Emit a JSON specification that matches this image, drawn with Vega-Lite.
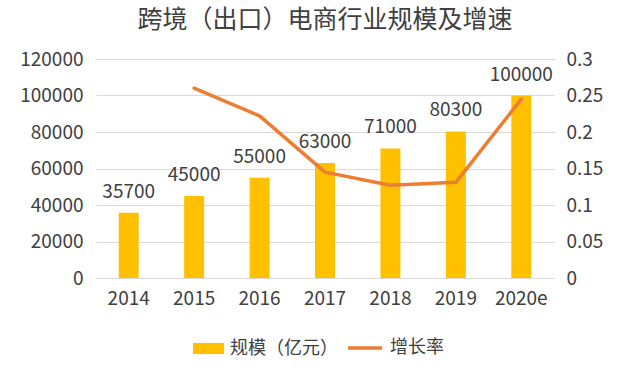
{
  "$schema": "https://vega.github.io/schema/vega-lite/v6.json",
  "width": 458,
  "height": 219,
  "autosize": {"type": "none"},
  "padding": {"left": 96, "top": 59, "right": 86, "bottom": 100},
  "background": "#ffffff",
  "config": {
    "view": {"stroke": null},
    "font": "Noto Sans CJK SC",
    "axis": {"labelFont": "Noto Sans CJK SC", "labelColor": "#404040", "domain": false, "ticks": false, "title": null, "labelOverlap": false},
    "legend": {"labelFont": "Noto Sans CJK SC", "labelColor": "#404040"}
  },
  "title": {
    "text": "跨境（出口）电商行业规模及增速",
    "font": "Noto Sans CJK SC",
    "fontSize": 25,
    "fontWeight": "normal",
    "color": "#404040",
    "anchor": "middle",
    "offset": 17
  },
  "data": {
    "values": [
      {"year": "2014", "scale": 35700, "rate": null},
      {"year": "2015", "scale": 45000, "rate": 0.26},
      {"year": "2016", "scale": 55000, "rate": 0.222},
      {"year": "2017", "scale": 63000, "rate": 0.145},
      {"year": "2018", "scale": 71000, "rate": 0.127},
      {"year": "2019", "scale": 80300, "rate": 0.131},
      {"year": "2020e", "scale": 100000, "rate": 0.245}
    ]
  },
  "encoding": {
    "x": {
      "field": "year",
      "type": "nominal",
      "sort": null,
      "scale": {"paddingInner": 0.695, "paddingOuter": 0.3475},
      "axis": {"labelAngle": 0, "labelFontSize": 19, "labelPadding": 11, "grid": false}
    }
  },
  "layer": [
    {
      "encoding": {
        "y": {
          "field": "scale",
          "type": "quantitative",
          "scale": {"domain": [0, 120000]},
          "axis": {"values": [0, 20000, 40000, 60000, 80000, 100000, 120000], "format": "d", "labelFontSize": 19, "labelPadding": 13, "labelOverlap": false, "gridColor": "#D9D9D9", "gridWidth": 1}
        }
      },
      "layer": [
        {
          "mark": {"type": "bar"},
          "encoding": {
            "fill": {
              "datum": "规模（亿元）",
              "type": "nominal",
              "scale": {"range": ["#FFC000"]},
              "legend": {
                "orient": "none",
                "legendX": 97,
                "legendY": 274,
                "title": null,
                "symbolType": "M-1,-0.36h2v0.72h-2z",
                "symbolSize": 961,
                "symbolStrokeWidth": 0,
                "labelFontSize": 18,
                "labelOffset": 6
              }
            }
          }
        },
        {
          "mark": {"type": "text", "baseline": "alphabetic", "dy": -15, "fontSize": 19, "color": "#404040"},
          "encoding": {
            "text": {"field": "scale", "type": "quantitative", "format": "d"}
          }
        }
      ]
    },
    {
      "transform": [{"filter": "datum.rate != null"}],
      "mark": {"type": "line", "strokeWidth": 3.5, "strokeJoin": "round", "strokeCap": "round"},
      "encoding": {
        "y": {
          "field": "rate",
          "type": "quantitative",
          "scale": {"domain": [0, 0.3]},
          "axis": {"orient": "right", "values": [0, 0.05, 0.1, 0.15, 0.2, 0.25, 0.3], "format": "~g", "labelFontSize": 19, "labelPadding": 12, "labelOverlap": false, "grid": false}
        },
        "stroke": {
          "datum": "增长率",
          "type": "nominal",
          "scale": {"range": ["#ED7D31"]},
          "legend": {
            "orient": "none",
            "legendX": 250,
            "legendY": 270,
            "title": null,
            "symbolType": "stroke",
            "symbolSize": 1156,
            "symbolStrokeWidth": 3.5,
            "labelFontSize": 18,
            "labelOffset": 6
          }
        }
      }
    }
  ],
  "resolve": {"scale": {"y": "independent", "fill": "independent", "stroke": "independent"}}
}
